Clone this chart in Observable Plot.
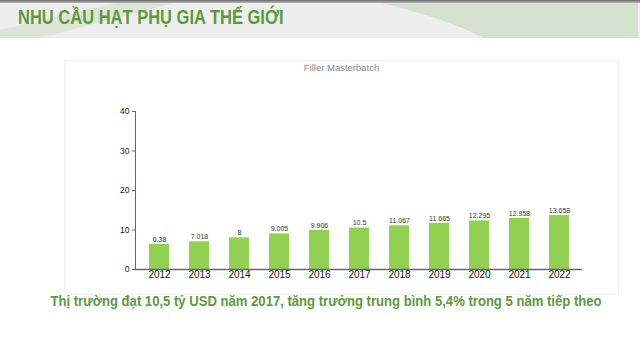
<!DOCTYPE html>
<html>
<head>
<meta charset="utf-8">
<script src="https://cdn.jsdelivr.net/npm/d3@7"></script>
<script src="https://cdn.jsdelivr.net/npm/@observablehq/plot@0.6"></script>
<style>
  html, body { margin: 0; padding: 0; background: #ffffff; }
  body { width: 640px; height: 360px; position: relative; overflow: hidden; font-family: "Liberation Sans", Arial, sans-serif; }
  #header { position: absolute; left: 0; top: 0; width: 640px; height: 38px; }
  #title { position: absolute; left: 18px; top: 6px; font-family: "Liberation Sans", Arial, sans-serif; font-weight: bold; font-size: 20px; color: #5a9a3c; white-space: nowrap; transform: scaleX(0.825); transform-origin: 0 50%; }
  #panel { position: absolute; left: 64px; top: 60px; width: 555px; height: 235px; border: 1px solid #efefef; box-sizing: border-box; }
  #chart { position: absolute; left: 64px; top: 60px; }
  #ptitle { position: absolute; left: 64px; width: 555px; top: 62px; text-align: center; font-size: 9.5px; color: #8a8a8a; }
  #subtitle { position: absolute; left: 0; width: 652px; top: 293px; text-align: center; font-family: "Liberation Sans", Arial, sans-serif; font-weight: bold; font-size: 14px; color: #5a9a3c; white-space: nowrap; transform: scaleX(0.935); transform-origin: 326px 50%; }
</style>
</head>
<body>
<svg id="header" width="640" height="38" viewBox="0 0 640 38">
  <defs>
    <linearGradient id="topline" x1="0" y1="0" x2="0" y2="1">
      <stop offset="0" stop-color="#6a6a6a"/>
      <stop offset="1" stop-color="#b8b8b8"/>
    </linearGradient>
  </defs>
  <rect x="0" y="0" width="640" height="38" fill="#eeeeee"/>
  <path d="M0,38 L40,38 L178,2 L120,2 L0,30 Z" fill="#dde5d8"/>
  <path d="M377,2 C420,12 460,25 483,38 L638,38 L638,2 Z" fill="#d5e1cf"/>
  <rect x="0" y="0" width="640" height="3" fill="url(#topline)"/>
</svg>
<div id="title">NHU CẦU HẠT PHỤ GIA THẾ GIỚI</div>
<div id="panel"></div>
<div id="ptitle">Filler Masterbatch</div>
<div id="chart"></div>
<div id="subtitle">Thị trường đạt 10,5 tỷ USD năm 2017, tăng trưởng trung bình 5,4% trong 5 năm tiếp theo</div>
<script>
const years = ["2012","2013","2014","2015","2016","2017","2018","2019","2020","2021","2022"];
const values = [6.38, 7.018, 8, 9.005, 9.906, 10.5, 11.067, 11.665, 12.295, 12.958, 13.658];
const yTicks = [0, 10, 20, 30, 40];

const data = years.map((y, i) => ({year: y, value: values[i]}));

let axisLine;
try {
  axisLine = Plot.frame({anchor: "left", stroke: "#666"});
} catch (e) {
  axisLine = null;
}

const chart = Plot.plot({
  width: 556,
  height: 235,
  marginLeft: 71,
  marginRight: 38,
  marginTop: 51,
  marginBottom: 26,
  style: {background: "transparent", fontFamily: "Liberation Sans, Arial, sans-serif", color: "#222"},
  x: {domain: years, paddingInner: 0.5, paddingOuter: 0.25, label: null},
  y: {domain: [0, 40], label: null},
  marks: [
    Plot.barY(data, {x: "year", y: "value", fill: "#92d050"}),
    Plot.text(data, {x: "year", y: "value", text: d => String(d.value), dy: -5, fontSize: 7, fill: "#333"}),
    Plot.axisY({ticks: yTicks, tickSize: 3, tickPadding: 3, fontSize: 8.5, stroke: "#666", label: null}),
    Plot.axisX({tickSize: 0, tickPadding: 1, fontSize: 10, fill: "#111", label: null}),
    axisLine,
    Plot.ruleY([0], {stroke: "#666", strokeWidth: 1.3})
  ].filter(Boolean)
});
document.getElementById("chart").appendChild(chart);
</script>
</body>
</html>
